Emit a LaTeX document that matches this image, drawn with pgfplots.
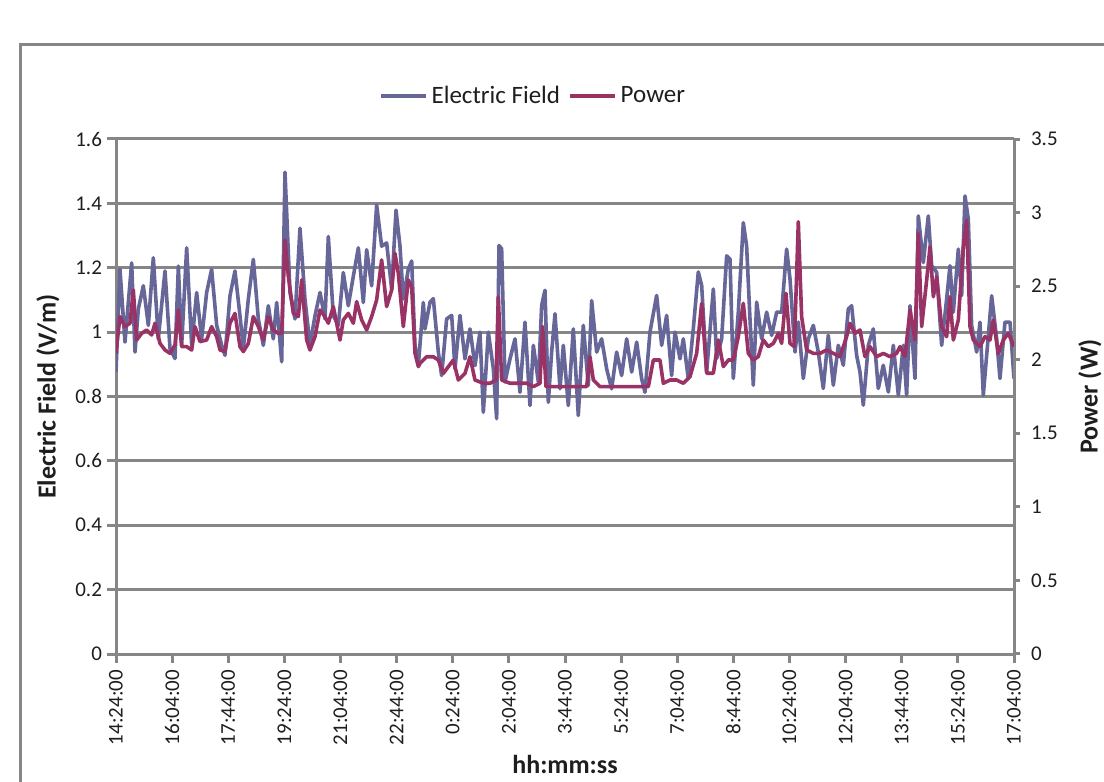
\documentclass[border=0pt]{standalone}
\usepackage{fontspec}
\setmainfont{Carlito}
\usepackage{pgfplots}
\pgfplotsset{compat=1.18}
\definecolor{efield}{HTML}{666699}
\definecolor{power}{HTML}{993366}
\definecolor{gridgray}{RGB}{134,134,134}
\definecolor{txt}{RGB}{30,30,30}

\pgfplotstableread{
t E
0 0.877
7.1 1.195
16.0 0.969
27.9 1.215
33.9 0.938
39.8 1.072
48.7 1.144
57.6 1.021
66.5 1.231
75.4 0.979
87.3 1.19
96.2 0.949
105.1 0.918
111.1 1.205
117.0 0.959
125.9 1.262
134.8 0.959
143.7 1.123
152.6 0.979
161.5 1.123
170.4 1.195
179.4 1.021
188.3 0.959
194.2 0.928
203.1 1.113
212.0 1.19
220.9 1.051
226.9 0.949
235.8 1.103
244.7 1.226
253.6 1.041
262.5 0.959
271.4 1.082
280.3 0.979
286.3 1.092
295.2 0.908
301.1 1.497
310.0 1.123
318.9 1.041
327.8 1.323
336.7 1.103
345.6 0.959
354.6 1.051
363.5 1.123
372.4 1.041
378.3 1.297
387.2 1.051
396.1 1.021
405.0 1.185
413.9 1.082
422.9 1.174
431.8 1.262
440.7 1.092
446.6 1.256
455.5 1.144
464.4 1.395
473.3 1.267
482.2 1.277
491.2 1.133
498.9 1.379
506.0 1.267
511.9 1.103
520.8 1.195
526.8 1.221
532.7 0.959
538.7 0.897
547.6 1.092
550.5 1.010
559.5 1.093
565.4 1.104
574.3 0.938
580.2 0.865
589.1 1.041
598.1 1.052
604.0 0.886
612.9 1.052
621.8 0.917
630.7 1.010
639.6 0.896
648.5 1.0
654.5 0.751
663.4 1.0
672.3 0.886
678.2 0.731
682.4 1.269
687.1 1.259
693.1 0.845
702.0 0.917
710.9 0.979
719.8 0.813
728.7 1.031
737.6 0.772
743.6 0.959
752.5 0.845
758.4 1.083
764.3 1.130
770.3 0.782
776.2 0.938
782.2 1.057
791.1 0.824
797.0 0.959
805.9 0.772
814.8 1.010
823.7 0.741
832.6 1.021
841.5 0.834
847.5 1.098
856.4 0.938
865.3 0.979
874.2 0.886
883.1 0.824
892.0 0.938
900.9 0.865
909.9 0.979
918.8 0.876
927.7 0.969
936.6 0.855
942.5 0.813
951.4 1.0
963.3 1.114
972.2 0.959
981.1 1.052
990.0 0.865
996.0 1.0
1004.9 0.917
1010.8 0.979
1019.7 0.855
1028.6 1.010
1037.5 1.187
1043.5 1.145
1052.4 0.876
1064.3 1.134
1070.2 0.918
1079.1 0.979
1088.0 1.237
1094.0 1.227
1099.9 0.856
1108.8 1.062
1117.7 1.340
1123.6 1.268
1129.6 1.041
1135.5 0.835
1141.5 1.093
1150.4 0.979
1159.3 1.062
1168.2 0.990
1177.1 1.062
1186.0 1.062
1194.9 1.258
1200.9 1.165
1209.8 0.938
1215.7 1.031
1224.6 0.856
1233.5 0.979
1242.4 1.021
1251.3 0.938
1260.2 0.825
1269.1 0.990
1278.1 0.835
1287.0 0.959
1295.9 0.897
1304.8 1.072
1310.7 1.082
1319.6 0.928
1325.6 0.876
1331.5 0.773
1340.4 0.959
1349.3 1.010
1358.2 0.825
1367.1 0.897
1376.1 0.814
1385.0 0.959
1393.9 0.804
1402.8 0.959
1408.7 0.804
1414.7 1.082
1423.6 0.856
1429.5 1.361
1438.4 1.216
1447.3 1.361
1453.3 1.206
1462.2 1.186
1471.1 0.959
1480.0 1.103
1485.9 1.206
1491.9 1.062
1500.8 1.258
1506.7 1.113
1512.7 1.423
1518.6 1.351
1524.5 1.021
1533.5 0.938
1539.4 1.031
1545.3 0.804
1551.3 0.928
1560.2 1.113
1569.1 0.979
1575.0 0.856
1583.9 1.031
1592.9 1.031
1600 0.856
}\efieldtable

\pgfplotstableread{
t P
0 2.044
1.2 2.089
7.1 2.293
16.0 2.225
24.9 2.248
30.9 2.474
36.8 2.134
45.7 2.179
54.6 2.202
63.5 2.168
69.5 2.248
78.4 2.111
87.3 2.066
96.2 2.044
105.1 2.100
111.1 2.338
117.0 2.089
125.9 2.089
134.8 2.066
140.7 2.225
149.7 2.123
161.5 2.134
170.4 2.225
179.4 2.157
185.3 2.066
194.2 2.055
203.1 2.248
212.0 2.315
220.9 2.089
226.9 2.055
235.8 2.111
244.7 2.293
253.6 2.225
262.5 2.134
271.4 2.293
280.3 2.202
289.2 2.179
295.2 2.179
301.1 2.814
307.1 2.564
316.0 2.315
324.9 2.293
330.8 2.542
339.7 2.134
345.6 2.066
354.6 2.157
363.5 2.338
372.4 2.293
378.3 2.248
387.2 2.361
399.1 2.134
405.0 2.270
413.9 2.315
422.9 2.248
428.8 2.395
437.7 2.270
446.6 2.202
455.5 2.293
464.4 2.406
473.3 2.678
482.2 2.361
491.2 2.474
497.1 2.723
503.0 2.587
511.9 2.225
520.8 2.542
526.8 2.497
532.7 2.044
538.7 1.953
541.6 1.975
553.5 2.020
565.4 2.020
574.3 1.998
583.2 1.907
601.0 1.998
609.9 1.862
621.8 1.907
630.7 2.020
639.6 1.862
654.5 1.840
666.4 1.840
677.0 1.862
681.2 2.429
687.1 1.862
702.0 1.840
731.7 1.840
743.6 1.817
755.4 1.840
760.2 2.225
766.1 1.817
838.6 1.817
844.5 2.020
850.5 1.862
862.3 1.817
948.5 1.817
957.4 1.998
969.2 1.998
975.2 1.840
987.1 1.862
998.9 1.862
1010.8 1.840
1022.7 1.885
1034.6 2.043
1043.5 2.383
1052.4 1.908
1064.3 1.908
1073.2 2.134
1082.1 1.953
1091.0 1.998
1099.9 1.998
1108.8 2.157
1117.7 2.383
1126.6 2.043
1135.5 1.998
1144.4 2.021
1153.3 2.134
1162.3 2.089
1171.2 2.111
1180.1 2.179
1186.0 2.111
1193.7 2.451
1200.9 2.111
1208.6 2.089
1215.7 2.938
1221.6 2.293
1230.5 2.066
1242.4 2.043
1254.3 2.043
1266.2 2.066
1278.1 2.043
1289.9 2.021
1301.8 2.157
1307.8 2.247
1316.7 2.179
1325.6 2.202
1334.5 2.021
1343.4 2.089
1355.3 2.021
1367.1 2.043
1379.0 2.021
1390.9 2.043
1396.8 2.089
1405.8 2.021
1414.7 2.338
1423.6 2.134
1429.5 2.859
1435.5 2.225
1444.4 2.542
1450.3 2.768
1456.3 2.428
1462.2 2.564
1471.1 2.225
1480.0 2.157
1485.9 2.428
1491.9 2.134
1500.8 2.270
1509.7 2.768
1515.6 2.949
1521.6 2.225
1527.5 2.134
1539.4 2.089
1548.3 2.157
1557.2 2.134
1563.1 2.270
1572.0 2.043
1581.0 2.134
1589.9 2.179
1600 2.089
}\powertable

\begin{document}
\begin{tikzpicture}
\useasboundingbox (0,0) rectangle (552pt,391pt);
\draw[gridgray, line width=1.5pt] (10pt,-20pt) -- (10pt,368.5pt) -- (600pt,368.5pt);
\begin{axis}[
  at={(58pt,64pt)}, anchor=south west,
  width=449pt, height=257.5pt, scale only axis,
  xmin=0, xmax=1600, ymin=0, ymax=1.6,
  axis x line*=bottom, axis y line*=left,
  axis line style={gridgray, line width=1.5pt, -},
  tick style={gridgray, line width=1.5pt},
  tick align=outside, major tick length=4.5pt,
  xtick={0,100,...,1600},
  xticklabels={14:24:00,16:04:00,17:44:00,19:24:00,21:04:00,22:44:00,0:24:00,2:04:00,3:44:00,5:24:00,7:04:00,8:44:00,10:24:00,12:04:00,13:44:00,15:24:00,17:04:00},
  xticklabel style={rotate=90, anchor=east, font=\fontsize{10.5}{12}\selectfont, text=txt},
  ytick={0,0.2,0.4,0.6,0.8,1,1.2,1.4,1.6},
  yticklabels={0,0.2,0.4,0.6,0.8,1,1.2,1.4,1.6},
  yticklabel style={font=\fontsize{10.5}{12}\selectfont, text=txt, xshift=1pt},
  ymajorgrids, grid style={gridgray, line width=1.5pt},
  ylabel={Electric Field (V/m)},
  ylabel style={at={(axis description cs:-0.0757,0.5)}, anchor=center, font=\fontsize{13}{15}\selectfont\bfseries, text=txt},
  xlabel={hh:mm:ss},
  xlabel style={at={(axis description cs:0.5,-0.1955)}, anchor=north, inner sep=0pt, font=\fontsize{13}{15}\selectfont\bfseries, text=txt},
  clip=true,
]
\addplot[efield, line width=1.8pt, line join=round] table[x=t, y=E] {\efieldtable};
\end{axis}
\begin{axis}[
  at={(58pt,64pt)}, anchor=south west,
  width=449pt, height=257.5pt, scale only axis,
  xmin=0, xmax=1600, ymin=0, ymax=3.5,
  axis x line=none, axis y line*=right,
  axis line style={gridgray, line width=1.5pt, -},
  tick style={gridgray, line width=1.5pt},
  tick align=outside, major tick length=3pt,
  ytick={0,0.5,1,1.5,2,2.5,3,3.5},
  yticklabels={0,0.5,1,1.5,2,2.5,3,3.5},
  yticklabel style={font=\fontsize{10.5}{12}\selectfont, text=txt, xshift=2pt},
  ylabel={Power (W)},
  ylabel style={at={(axis description cs:1.0846,0.5)}, anchor=center, font=\fontsize{13}{15}\selectfont\bfseries, text=txt},
  legend style={at={(axis description cs:0.4655,1.0835)}, anchor=center, draw=none, fill=none,
    legend columns=2, font=\fontsize{12.5}{14}\selectfont, text=txt,
    /tikz/every even column/.append style={column sep=2pt}},
  legend image code/.code={\draw[#1] (0pt,0pt) -- (22.5pt,0pt);},
]
\addlegendimage{efield, line width=1.8pt}
\addlegendentry{Electric Field}
\addplot[power, line width=1.8pt, line join=round] table[x=t, y=P] {\powertable};
\addlegendentry{Power}
\end{axis}
\end{tikzpicture}
\end{document}
